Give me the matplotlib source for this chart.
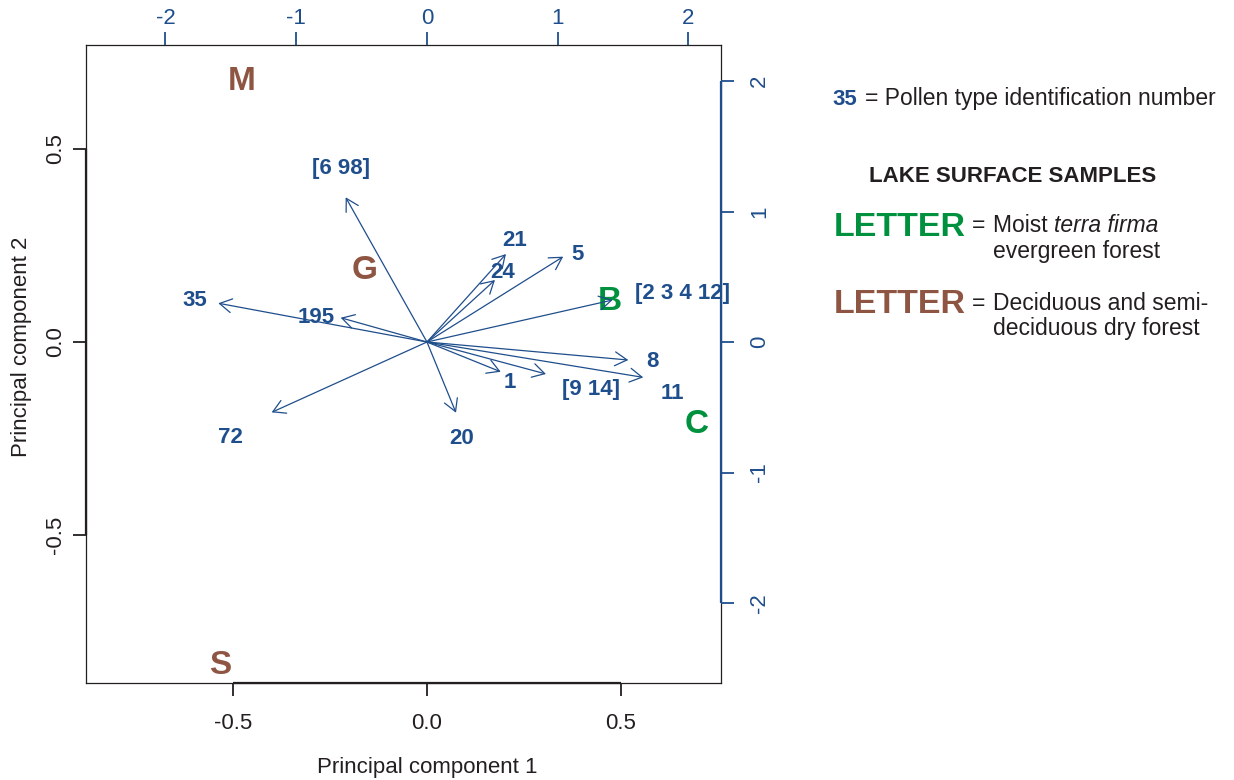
import matplotlib
matplotlib.use("Agg")
import matplotlib.pyplot as plt
from matplotlib.patches import FancyArrowPatch
from matplotlib import transforms

plt.rcParams['font.family'] = ['Liberation Sans', 'DejaVu Sans']
plt.rcParams['axes.unicode_minus'] = False

BLUE = '#1f4e8c'
GREEN = '#00913f'
BROWN = '#8f5543'
INK = '#231f20'

# Pollen-type loadings (top/right axes units): arrow tips and label positions
pollen_labels = ['[6 98]', '35', '195', '21', '24', '5', '[2 3 4 12]',
                 '8', '11', '1', '[9 14]', '72', '20']
load_pc1 = [-0.622, -1.596, -0.660, 0.604, 0.520, 1.042, 1.420,
            1.540, 1.654, 0.564, 0.910, -1.188, 0.222]
load_pc2 = [1.109, 0.297, 0.186, 0.674, 0.475, 0.654, 0.322,
            -0.138, -0.271, -0.228, -0.245, -0.539, -0.542]
label_pc1 = [-0.658, -1.774, -0.844, 0.673, 0.581, 1.155, 1.954,
             1.725, 1.878, 0.631, 1.254, -1.507, 0.264]
label_pc2 = [1.345, 0.337, 0.209, 0.797, 0.552, 0.693, 0.391,
             -0.130, -0.372, -0.295, -0.345, -0.713, -0.720]

# Lake surface sample scores (bottom/left axes units)
sample_names = ['M', 'G', 'S', 'B', 'C']
sample_pc1 = [-0.477, -0.160, -0.534, 0.472, 0.696]
sample_pc2 = [0.684, 0.194, -0.829, 0.115, -0.205]
sample_type = ['dry', 'dry', 'dry', 'moist', 'moist']
type_colors = {'moist': GREEN, 'dry': BROWN}

score_ticks = [-0.5, 0.0, 0.5]
loading_ticks = [-2, -1, 0, 1, 2]

W, H = 1234, 780
fig = plt.figure(figsize=(W / 100, H / 100), dpi=100)
fig.patch.set_facecolor('white')

rect = [86 / W, 1 - 683 / H, 635 / W, 638 / H]
ax = fig.add_axes(rect)
ax.set_xlim(-0.879, 0.758)
ax.set_ylim(-0.883, 0.769)
for s in ax.spines.values():
    s.set_linewidth(0.9)
    s.set_color(INK)

ax.set_xticks(score_ticks)
ax.set_yticks(score_ticks)
ax.set_xticklabels([f'{v:.1f}' for v in score_ticks])
ax.set_yticklabels([f'{v:.1f}' for v in score_ticks])
ax.tick_params(axis='x', direction='out', length=9.4, width=1.3, color=INK,
               labelsize=16, labelcolor=INK, pad=12)
ax.tick_params(axis='y', direction='out', length=9.4, width=1.3, color=INK,
               labelsize=16, labelcolor=INK, pad=5, labelrotation=90)
for lab in ax.get_yticklabels():
    lab.set_va('center')
ax.set_xlabel('Principal component 1', fontsize=16, color=INK, va='center')
ax.set_ylabel('Principal component 2', fontsize=16, color=INK, va='center')
ax.xaxis.set_label_coords((427 - 86) / 635, (683 - 767) / 638)
ax.yaxis.set_label_coords((22 - 86) / 635, (683 - 347) / 638)

# R-style axis lines spanning the tick range
y0, x0 = ax.get_ylim()[0], ax.get_xlim()[0]
ax.plot([score_ticks[0], score_ticks[-1]], [y0, y0], color=INK, lw=1.6,
        clip_on=False, solid_capstyle='butt')
ax.plot([x0, x0], [score_ticks[0], score_ticks[-1]], color=INK, lw=1.6,
        clip_on=False, solid_capstyle='butt')

# Sample letters, visually centred on their scores
cap_big = 0.716 * 24 * 100 / 72
big_tr = transforms.offset_copy(ax.transData, fig=fig, y=-cap_big / 2, units='dots')
for name, px, py, t in zip(sample_names, sample_pc1, sample_pc2, sample_type):
    ax.text(px, py, name, transform=big_tr, color=type_colors[t], fontsize=24,
            fontweight='bold', ha='center', va='baseline')

# Loadings axes (top / right)
ax2 = fig.add_axes(rect, frameon=False)
ax2.set_xlim(-2.608, 2.249)
ax2.set_ylim(-2.613, 2.276)
ax2.xaxis.tick_top()
ax2.yaxis.tick_right()
ax2.set_xticks(loading_ticks)
ax2.set_yticks(loading_ticks)
ax2.set_xticklabels([str(v) for v in loading_ticks])
ax2.set_yticklabels([str(v) for v in loading_ticks])
ax2.tick_params(axis='x', direction='out', length=9.4, width=1.3, color=BLUE,
                labelsize=16, labelcolor=BLUE, pad=2)
ax2.tick_params(axis='y', direction='out', length=9.4, width=1.3, color=BLUE,
                labelsize=16, labelcolor=BLUE, pad=11, labelrotation=90)
for lab in ax2.get_yticklabels():
    lab.set_va('center')
x1 = ax2.get_xlim()[1]
ax2.plot([x1, x1], [loading_ticks[0], loading_ticks[-1]], color=BLUE, lw=1.6,
         clip_on=False, solid_capstyle='butt')

# Loading arrows with open heads
for lx, ly in zip(load_pc1, load_pc2):
    arr = FancyArrowPatch((0, 0), (lx, ly), transform=ax2.transData,
                          arrowstyle='->,head_length=8.7,head_width=5.0',
                          mutation_scale=1, shrinkA=0, shrinkB=0,
                          color=BLUE, lw=0.9)
    ax2.add_patch(arr)

# Pollen labels, visually centred on their positions
cap_px = 0.716 * 16 * 100 / 72
lab_tr = transforms.offset_copy(ax2.transData, fig=fig, y=-cap_px / 2, units='dots')
for text, tx, ty in zip(pollen_labels, label_pc1, label_pc2):
    ax2.text(tx, ty, text, transform=lab_tr, color=BLUE, fontsize=16,
             fontweight='bold', ha='center', va='baseline')

# Key on the right
def fx(x):
    return x / W


def fy(y):
    return 1 - y / H


fig.text(fx(832), fy(105), '35', color=BLUE, fontsize=16, fontweight='bold',
         va='baseline')
fig.text(fx(865), fy(105), '= Pollen type identification number', color=INK,
         fontsize=16.5, va='baseline')
fig.text(fx(1013), fy(181.5), 'LAKE SURFACE SAMPLES', color=INK, fontsize=16,
         fontweight='bold', ha='center', va='baseline')

fig.text(fx(834), fy(236.5), 'LETTER', color=GREEN, fontsize=24.5,
         fontweight='bold', va='baseline')
fig.text(fx(972), fy(232), '=', color=INK, fontsize=16.5, va='baseline')
t_moist = fig.text(fx(993), fy(232), 'Moist ', color=INK, fontsize=16.5,
                   va='baseline')
renderer = fig.canvas.get_renderer()
bb = t_moist.get_window_extent(renderer)
fig.text(bb.x1 / W, fy(232), 'terra firma', color=INK, fontsize=16.5,
         style='italic', va='baseline')
fig.text(fx(993), fy(258), 'evergreen forest', color=INK, fontsize=16.5,
         va='baseline')

fig.text(fx(834), fy(313), 'LETTER', color=BROWN, fontsize=24.5,
         fontweight='bold', va='baseline')
fig.text(fx(972), fy(310), '=', color=INK, fontsize=16.5, va='baseline')
fig.text(fx(993), fy(310), 'Deciduous and semi-', color=INK, fontsize=16.5,
         va='baseline')
fig.text(fx(993), fy(335), 'deciduous dry forest', color=INK, fontsize=16.5,
         va='baseline')

fig.savefig('out.png', dpi=100, facecolor='white')
